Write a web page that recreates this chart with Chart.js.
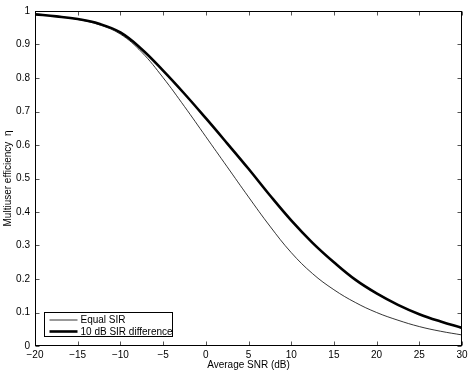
<!DOCTYPE html>
<html>
<head>
<meta charset="utf-8">
<script src="https://cdn.jsdelivr.net/npm/chart.js@4/dist/chart.umd.min.js"></script>
<style>
  html, body { margin: 0; padding: 0; background: #fff; }
  #wrap { width: 471px; height: 373px; }
</style>
</head>
<body>
<div id="wrap"><canvas id="chart" width="471" height="373"></canvas></div>
<script>
// values
const snrDb = [-20, -17.5, -15, -12.5, -10, -7.5, -5, -2.5, 0, 2.5, 5, 7.5, 10, 12.5, 15, 17.5, 20, 22.5, 25, 27.5, 30]
const equalSir = [0.990, 0.984, 0.975, 0.959, 0.931, 0.877, 0.801, 0.715, 0.625, 0.535, 0.445, 0.358, 0.279, 0.216, 0.168, 0.130, 0.100, 0.077, 0.058, 0.044, 0.033]
const diffSir = [0.990, 0.984, 0.976, 0.962, 0.936, 0.886, 0.822, 0.753, 0.680, 0.605, 0.529, 0.450, 0.375, 0.308, 0.250, 0.198, 0.157, 0.123, 0.095, 0.073, 0.054]
const seriesLabels = ['Equal SIR', '10 dB SIR difference']
const xTicks = [-20, -15, -10, -5, 0, 5, 10, 15, 20, 25, 30]
const yTicks = [0, 0.1, 0.2, 0.3, 0.4, 0.5, 0.6, 0.7, 0.8, 0.9, 1]

const FONT = "'Liberation Sans', Arial, Helvetica, sans-serif"

const toPoints = ys => snrDb.map((x, i) => ({ x: x, y: ys[i] }))

// box around the plot, inward tick marks and the legend inside the axes
const framePlugin = {
	id: 'frame',
	afterDatasetsDraw(chart) {
		const { ctx, chartArea: a, scales } = chart
		const L = Math.round(a.left) + 0.5, R = Math.round(a.right) - 0.5
		const T = Math.round(a.top) + 0.5, B = Math.round(a.bottom) - 0.5
		ctx.save()
		ctx.strokeStyle = '#555'
		ctx.lineWidth = 1
		ctx.beginPath()
		xTicks.forEach(v => {
			const px = Math.round(scales.x.getPixelForValue(v)) + 0.5
			ctx.moveTo(px, B); ctx.lineTo(px, B - 4)
			ctx.moveTo(px, T); ctx.lineTo(px, T + 4)
		})
		yTicks.forEach(v => {
			const py = Math.round(scales.y.getPixelForValue(v)) + 0.5
			ctx.moveTo(L, py); ctx.lineTo(L + 4, py)
			ctx.moveTo(R, py); ctx.lineTo(R - 4, py)
		})
		ctx.stroke()
		ctx.strokeStyle = '#000'
		ctx.strokeRect(L, T, R - L, B - T)

		// legend
		const lx = 44.5, ly = 312.5, lw = 128, lh = 24
		ctx.fillStyle = '#fff'
		ctx.fillRect(lx, ly, lw, lh)
		ctx.strokeStyle = '#000'
		ctx.lineWidth = 1
		ctx.strokeRect(lx, ly, lw, lh)
		ctx.font = '10px ' + FONT
		ctx.textBaseline = 'middle'
		ctx.textAlign = 'left'
		chart.data.datasets.forEach((ds, i) => {
			const yy = ly + 7.5 + i * 11.5
			ctx.beginPath()
			ctx.strokeStyle = ds.borderColor
			ctx.lineWidth = ds.borderWidth
			ctx.moveTo(lx + 5, yy)
			ctx.lineTo(lx + 33, yy)
			ctx.stroke()
			ctx.fillStyle = '#000'
			ctx.fillText(ds.label, lx + 36, yy + 0.5)
		})
		ctx.restore()
	}
}

new Chart(document.getElementById('chart'), {
	type: 'line',
	data: {
		datasets: [{
			label: seriesLabels[0],
			data: toPoints(equalSir),
			borderColor: '#000',
			borderWidth: 0.8,
			pointRadius: 0,
			fill: false,
			tension: 0.4
		}, {
			label: seriesLabels[1],
			data: toPoints(diffSir),
			borderColor: '#000',
			borderWidth: 2.6,
			pointRadius: 0,
			fill: false,
			tension: 0.4
		}]
	},
	options: {
		responsive: false,
		animation: false,
		events: [],
		layout: { padding: { top: 9, right: 9, left: 0, bottom: 0 } },
		plugins: {
			legend: { display: false },
			tooltip: { enabled: false }
		},
		scales: {
			x: {
				type: 'linear',
				min: -20,
				max: 30,
				afterFit: s => { s.height = 27 },
				afterBuildTicks: s => { s.ticks = xTicks.map(v => ({ value: v })) },
				grid: { display: false, drawTicks: false },
				border: { display: false },
				ticks: {
					padding: 3,
					maxRotation: 0,
					color: '#000',
					font: { family: FONT, size: 10 },
					callback: v => String(v).replace('-', '\u2212')
				},
				title: {
					display: true,
					text: 'Average SNR (dB)',
					color: '#000',
					font: { family: FONT, size: 10 },
					padding: { top: 0, bottom: 2 }
				}
			},
			y: {
				type: 'linear',
				min: 0,
				max: 1,
				afterFit: s => { s.width = 35 },
				afterBuildTicks: s => { s.ticks = yTicks.map(v => ({ value: v })) },
				grid: { display: false, drawTicks: false },
				border: { display: false },
				ticks: {
					padding: 5,
					color: '#000',
					font: { family: FONT, size: 10 },
					callback: v => (v === 0 || v === 1) ? String(v) : v.toFixed(1)
				},
				title: {
					display: true,
					text: 'Multiuser efficiency  \u03b7',
					color: '#000',
					font: { family: FONT, size: 10 },
					padding: { top: 2, bottom: 0 }
				}
			}
		}
	},
	plugins: [framePlugin]
})
</script>
</body>
</html>
